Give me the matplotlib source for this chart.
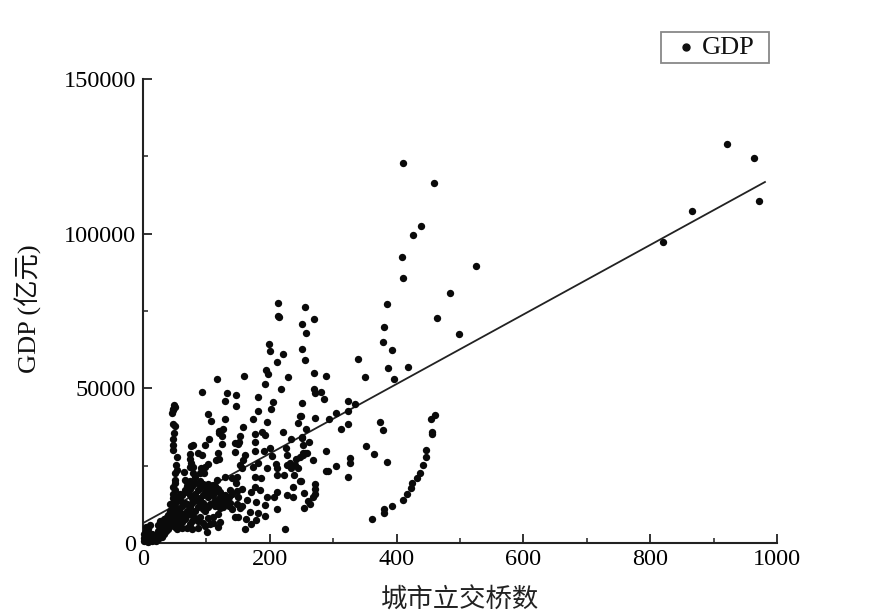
import matplotlib
matplotlib.use("Agg")
import matplotlib.pyplot as plt
from matplotlib.lines import Line2D
from matplotlib.patches import Rectangle
from matplotlib.ticker import MultipleLocator

outer_x = [921,964,972,866,820,409.5,459.5,438,426,408,410,525,484,463,498,385,380,378,392,338.5,387,418.5,350,396,
           270,255.5,251,256.5,250,255.5,270,289,270,280,272,285,251,323,335,305,324,249,272,293,323,312,374,378,256.5,250.7,262,252,352,365,289,255.5,252,326,267.6,385,326,304,288,292,323,249,272,272,254,272,268,261,263,254]
outer_y = [129000,124500,110600,107300,97300,122750,116280,102480,99460,92450,85660,89540,80700,72620,67550,77150,69820,64860,62270,59470,56450,56770,53650,53000,
           72400,76280,70900,67770,62700,59250,54940,53860,49870,48900,48360,46420,45130,45780,44800,42110,42650,41140,40500,40060,38340,36830,39200,36400,36830,34030,32520,31650,31440,28740,29720,29180,28420,27560,26910,26260,25730,24760,23350,23140,21410,20010,19040,17320,16020,15700,14950,13650,12470,11170]
arc_x = [361,380,380,392,410,416,423,424,432,437,442,446,446,456,456,455,460]
arc_y = [7830,10850,9560,11820,13760,15920,17640,19470,21090,22710,25300,27770,30150,35860,35100,39960,41360]
mid_x = [213,213,215,199,200,221,211,194.5,197,159,229,117,192,217,93,133,147,181,129,205,147,48.4,50.5,46.8,45.2,47.8,202,181,103,129,108,248,173,196,245,48,50.5,49,158,126,120,124,120,176,188,192,221,104,152.5,234,250,48,48,48,176,152,145,150,125,79,75,98,201,191,177,145,226,119,253,258,248,53,87,93,74,74,161,158,115,120,226.6,232,226.6,203,182,242,76,79,74,52,53,50.5,153,156,103,98,209,211,240,245,233.4,196,173,65,91.5,90,96,79,82,211,222,238,177,186,148,140,129,248,69,74,116,111,104,147,177,185,171,237,137,150,211,227,237,206,195,163.5,179,192,211,169,182,192,179,171,162,161,224,101,153,145,150,121.4,132,137,111,119,121]
mid_y = [77490,73390,72960,64440,62070,61210,58620,56030,54740,54090,53550,52910,51510,49780,48700,48490,47840,47090,45900,45690,44180,44600,43850,43200,42130,42990,43200,42670,41590,40190,39540,41150,39970,39110,38900,38460,37820,35660,37600,36740,36300,34690,35440,35230,35980,34910,35880,33720,34590,33610,34150,33610,31670,30060,32530,32750,32210,32100,32000,31780,31350,31780,30600,29840,29620,29300,30700,29190,29200,28980,27900,27900,29190,28440,28660,27000,28330,26820,26820,27000,28440,25730,25200,28120,25960,27000,25740,24660,24660,25200,23580,22500,25200,24120,25530,24660,25530,24120,25200,24120,24120,24120,24450,22940,24120,22500,22720,22500,21430,21970,21970,21970,21430,20890,21430,20890,21430,20130,19800,19270,20350,18740,18740,19490,18200,17120,16580,18200,17120,14960,16580,15500,14960,14960,14960,13880,13350,12270,10870,10110,9570,8820,7420,6120,7740,4400,4610,3640,11190,8500,8500,11190,13350,12800,6340,5260,6880]

dense_col_x = [2,5,8,11,14,17,20,24,27,30,33,36,40,43,47,50,54,58,62,66,70,74,78,82,86,90,94,98,102,106,110,114,118,122,126,130,135,141,148,156]
dense_col_y = [[500,1500,3000],[800,2300,4000,5200],[300,1500,3300,4500],[1000,2000,5800],[600,3000],[1200,2300],[700,2600],
               [1200,3800,5800],[2500,4800,7000],[1800,3600,6000],[3000,5000,7600],[3900,6200,8000],[4500,7000,9000],
               [5500,8000,10500,12500],[6000,7400,9300,11000,13000,14500,16000,18000],
               [5200,8400,10000,12000,15000,17000,19500,20500],[4500,7000,9000,11000,13500],
               [6200,8000,10000,14000,16000],[4800,6900,9500,11800,15500],
               [7700,9200,13000,17000,20500],[5000,8900,10500,12500,16500,18500],
               [6000,9800,11500,15500,17500,20000],[4400,7000,9000,12800,14500,18500],
               [8200,10500,14000,16000,19500],[5000,7000,11500,13500,17000],
               [8500,12500,14500,18000,20000],[6500,11000,13000,15500,19000],
               [5500,10500,12000,16500,18500],[8000,11500,15000,17500,19000],
               [6000,12500,16000,18000],[8500,13000,15500,17500],[12000,14000,16500,18500],
               [9500,13000,17500],[12800,15000,16500],[11500,14000],[13000,15500],[12000,14800],[11000,15800],[12500,16800],[11800,17500]]

line_x = [0, 981]
line_y = [6440, 116700]

x_ticks = [0,200,400,600,800,1000]
y_ticks = [0,50000,100000,150000]

cjk = ['Noto Sans CJK SC','DejaVu Sans']
plt.rcParams['font.family'] = ['Liberation Serif','Noto Sans CJK SC','DejaVu Sans']

fig = plt.figure(figsize=(8.86,6.14), dpi=100)
ax = fig.add_axes([143/886, 1-543/614, (777-143)/886, (543-79)/614])
dense_x = [x for x, col in zip(dense_col_x, dense_col_y) for _ in col]
dense_y = [y for col in dense_col_y for y in col]
xs = outer_x+arc_x+mid_x+dense_x
ys = outer_y+arc_y+mid_y+dense_y
ax.scatter(xs, ys, s=28, c='#0a0a0a', linewidths=0, zorder=3, clip_on=False)
ax.plot(line_x, line_y, color='#222222', lw=1.3, zorder=2)
ax.set_xlim(0,1000); ax.set_ylim(0,150000)
ax.spines['top'].set_visible(False); ax.spines['right'].set_visible(False)
for s in ['left','bottom']:
    ax.spines[s].set_linewidth(1.5); ax.spines[s].set_color('#222222')
ax.set_xticks(x_ticks); ax.set_yticks(y_ticks)
ax.xaxis.set_minor_locator(MultipleLocator(100))
ax.yaxis.set_minor_locator(MultipleLocator(25000))
ax.tick_params(which='major', direction='in', length=6.5, width=1.3, labelsize=17.5, color='#222222', pad=4)
ax.tick_params(which='minor', direction='in', length=3.5, width=1.1, color='#222222')
ax.tick_params(axis='y', pad=5)
ax.set_xlabel('城市立交桥数', fontsize=19, labelpad=12, color='#222222', family=cjk)
ax.text(-0.181, 0.504, 'GDP (亿元)', rotation=90, transform=ax.transAxes, ha='center', va='center', fontsize=19, color='#111111')

# legend box
fig.add_artist(Rectangle((661/886, 1-63/614), 108/886, 31/614, transform=fig.transFigure, fc='white', ec='#888888', lw=1.3))
fig.add_artist(Line2D([686/886],[1-47/614], transform=fig.transFigure, marker='o', ms=5, color='#111111', ls='none'))
fig.text(702/886, 1-48/614, 'GDP', fontsize=19, va='center', ha='left', color='#111111')
fig.savefig('out.png', dpi=100)
